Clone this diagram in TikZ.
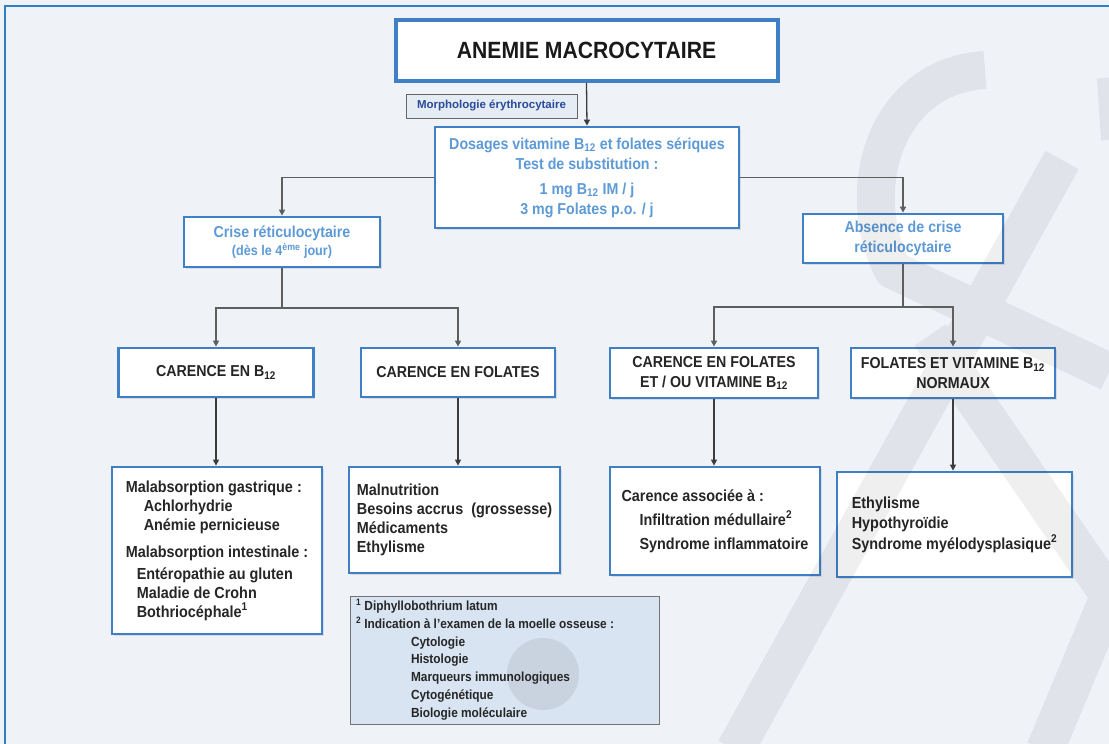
\documentclass[tikz,border=0pt]{standalone}
\usepackage{fontspec}
\setmainfont{Liberation Sans}[FakeStretch=0.9]
\newfontfamily\widefont{Liberation Sans}
\usetikzlibrary{arrows.meta,shadows}
\definecolor{bg}{HTML}{EFF3F8}
\definecolor{frameblue}{HTML}{2F7FC1}
\definecolor{boxblue}{HTML}{3F7FC6}
\definecolor{textblue}{HTML}{5D9AD6}
\definecolor{navy}{HTML}{2A4A9A}
\definecolor{fnfill}{HTML}{D8E4F1}
\definecolor{wmgray}{HTML}{EFEFF0}
\definecolor{circgray}{HTML}{C9D3DF}
\definecolor{lineC}{HTML}{3C3C3C}
\definecolor{lineG}{HTML}{5E5E5E}
\tikzset{
  every node/.append style={execute at begin node={\spaceskip=0pt\relax\xspaceskip=0pt\relax}},
  box/.style={draw=boxblue, line width=2.8pt, fill=white, inner sep=0pt,
    drop shadow={shadow xshift=1.5pt, shadow yshift=-1.5pt, opacity=0.2}},
  bluetext/.style={text=textblue, font=\bfseries\fontsize{15.8}{20}\selectfont},
  capstext/.style={text=black!85, font=\bfseries\fontsize{15.8}{20}\selectfont},
  listtext/.style={text=black!85, font=\bfseries\fontsize{16}{19}\selectfont, align=left},
  arr/.style={line width=1.3pt, draw=lineC, -{Triangle[length=6pt,width=6pt]}},
  garr/.style={line width=1.6pt, draw=lineG, -{Triangle[length=6pt,width=6pt]}},
  conn/.style={line width=1.6pt, draw=lineG},
  wm/.style={draw=wmgray, line cap=butt, line join=round},
}
\begin{document}
\begin{tikzpicture}[x=1pt,y=-1pt]
\fill[bg] (0,0) rectangle (1109,744);
\useasboundingbox (0,0) rectangle (1109,744);
% frame
\draw[frameblue, line width=1.2pt] (5,744) -- (5,6) -- (1109,6);

% nodes
\node[box, line width=4pt, minimum width=382pt, minimum height=61pt,
  font=\bfseries\fontsize{23.5}{28}\selectfont, text=black!90] (title) at (586.5,50.5) {ANEMIE MACROCYTAIRE};
\node[draw=black!60, line width=1pt, fill={rgb,255:red,230;green,236;blue,244}, inner sep=0pt,
  minimum width=171pt, minimum height=24pt, text=navy,
  font=\widefont\bfseries\fontsize{11.5}{14}\selectfont] (morph) at (491.5,106) {Morphologie érythrocytaire};
\node[box, bluetext, align=center, minimum width=304pt, minimum height=101pt] (dos) at (587,177.5)
  {Dosages vitamine B\textsubscript{12} et folates sériques\\Test de substitution :\\[5pt]
   1 mg B\textsubscript{12} IM / j\\3 mg Folates p.o. / j};
\node[box, bluetext, align=center, minimum width=196pt, minimum height=50pt] (crise) at (282,242)
  {Crise réticulocytaire\\[-2pt]{\fontsize{14}{16}\selectfont (dès le 4\textsuperscript{ème} jour)}};
\node[box, bluetext, align=center, minimum width=200pt, minimum height=49pt] (abs) at (903,238.5)
  {Absence de crise\\réticulocytaire};
\node[box, capstext, minimum width=195pt, minimum height=49pt] (cb12) at (216,372.5)
  {CARENCE EN B\textsubscript{12}};
\node[box, capstext, minimum width=194pt, minimum height=49pt] (cfol) at (458,372.5)
  {CARENCE EN FOLATES};
\node[box, capstext, align=center, minimum width=208pt, minimum height=50pt] (cfb) at (714,373)
  {CARENCE EN FOLATES\\ET / OU VITAMINE B\textsubscript{12}};
\node[box, capstext, align=center, minimum width=204pt, minimum height=50pt] (fvn) at (953,373)
  {FOLATES ET VITAMINE B\textsubscript{12}\\NORMAUX};
\node[box, listtext, minimum width=210pt, minimum height=167pt] (b1) at (217,550.5)
  {Malabsorption gastrique :\\
   \hspace*{18pt}Achlorhydrie\\
   \hspace*{18pt}Anémie pernicieuse\\[8pt]
   Malabsorption intestinale :\\[3pt]
   \hspace*{11pt}Entéropathie au gluten\\
   \hspace*{11pt}Maladie de Crohn\\
   \hspace*{11pt}Bothriocéphale\textsuperscript{1}};
\node[box, listtext, minimum width=211pt, minimum height=106pt] (b2) at (454.5,520)
  {Malnutrition\\Besoins accrus\ \ (grossesse)\\Médicaments\\Ethylisme};
\node[box, listtext, minimum width=210pt, minimum height=108pt, font=\bfseries\fontsize{16}{24}\selectfont] (b3) at (715,521)
  {Carence associée à :\\
   \hspace*{18pt}Infiltration médullaire\textsuperscript{2}\\
   \hspace*{18pt}Syndrome inflammatoire};
\node[box, listtext, minimum width=235pt, minimum height=105pt, font=\bfseries\fontsize{16}{20.5}\selectfont] (b4) at (954.5,524.5)
  {Ethylisme\\Hypothyroïdie\\Syndrome myélodysplasique\textsuperscript{2}};
\node[draw=black!55, line width=1pt, fill=fnfill, inner sep=0pt, minimum width=309pt, minimum height=128pt,
  text width=297pt, align=left, text=black!85, font=\bfseries\fontsize{13.2}{17.9}\selectfont,
  path picture={\fill[circgray] ([xshift=38.5pt,yshift=-14pt]path picture bounding box.center) circle[radius=36pt];}] (fn) at (504.5,660)
  {\textsuperscript{1} Diphyllobothrium latum\\
   \textsuperscript{2} Indication à l'examen de la moelle osseuse :\\
   \hspace*{55pt}Cytologie\\
   \hspace*{55pt}Histologie\\
   \hspace*{55pt}Marqueurs immunologiques\\
   \hspace*{55pt}Cytogénétique\\
   \hspace*{55pt}Biologie moléculaire};

% watermark: one stroke (union of all bands), multiplied over the drawing
\begin{scope}[blend mode=multiply]
\draw[wm, line width=38pt]
  (985,70) .. controls (885,76) and (852,190) .. (893,270) -- (1109,372)
  (1062,160) -- (735,750)
  (930,335) -- (1109,595)
  (1118,575) -- (1045,750);
\draw[wm, line width=14pt] (1104,78) -- (1108,140);
\end{scope}

% connectors
\draw[arr] (title.south) -- (dos.north);
\draw[garr] (dos.west) -| (crise.north);
\draw[garr] (dos.east) -| (abs.north);
\coordinate (j1) at (282,308);
\coordinate (j2) at (903,307);
\draw[conn] (crise.south) -- (j1);
\draw[garr] (j1) -| (cb12.north);
\draw[garr] (j1) -| (cfol.north);
\draw[conn] (abs.south) -- (j2);
\draw[garr] (j2) -| (cfb.north);
\draw[garr] (j2) -| (fvn.north);
\draw[arr] (cb12.south) -- (cb12.south |- b1.north);
\draw[arr] (cfol.south) -- (cfol.south |- b2.north);
\draw[arr] (cfb.south) -- (cfb.south |- b3.north);
\draw[arr] (fvn.south) -- (fvn.south |- b4.north);
\end{tikzpicture}
\end{document}
